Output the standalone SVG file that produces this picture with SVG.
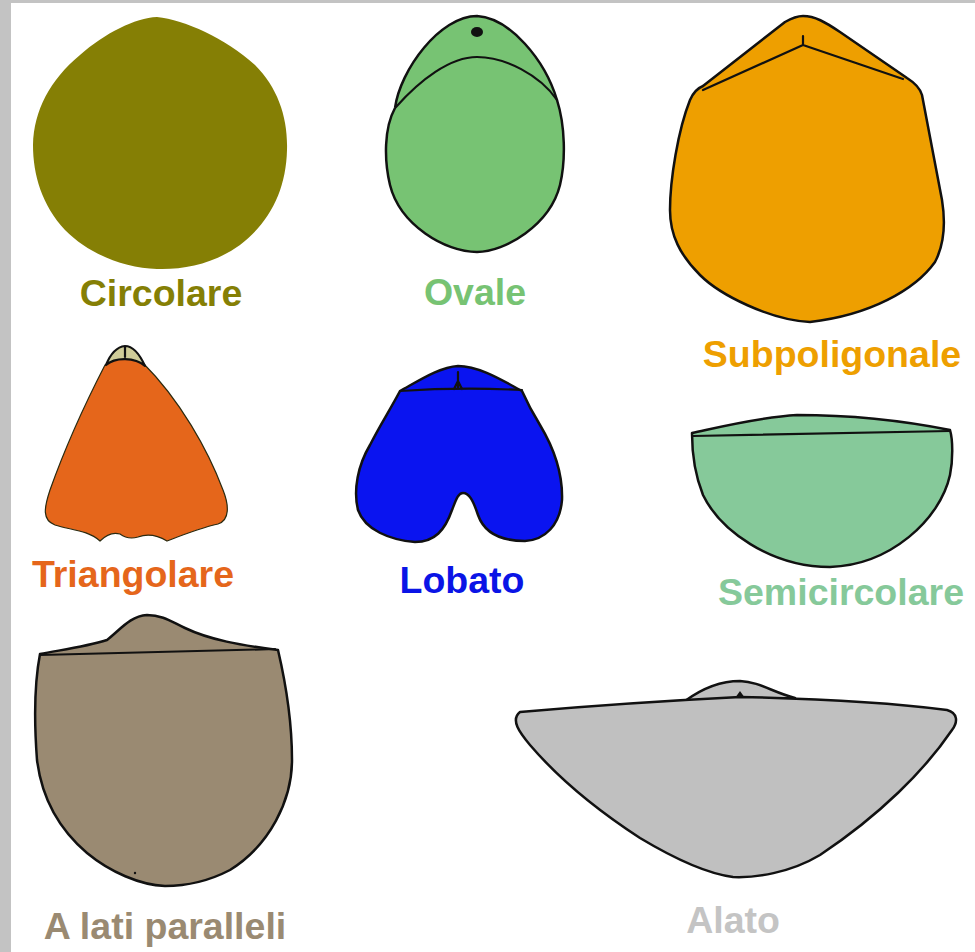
<svg xmlns="http://www.w3.org/2000/svg" width="975" height="952" viewBox="0 0 975 952">
  <style>
    .lbl { font-family: "Liberation Sans", Arial, sans-serif; font-weight: bold; font-size: 37.5px; text-anchor: middle; }
    .ol { stroke: #111; stroke-width: 2.5; stroke-linejoin: round; stroke-linecap: round; }
    .ln { fill: none; stroke: #111; stroke-width: 2.2; stroke-linecap: round; stroke-linejoin: round; }
  </style>

  <!-- page background and frame -->
  <rect x="0" y="0" width="975" height="952" fill="#ffffff"/>
  <rect x="0" y="0" width="11" height="952" fill="#c3c3c3"/>
  <rect x="0" y="0" width="975" height="3" fill="#c3c3c3"/>

  <!-- Circolare -->
  <g id="circolare">
    <path fill="#857f05" d="M157,17 C185,20 225,38 255,65 C278,88 288,118 287,150 C286,190 270,222 240,245 C215,263 185,270 157,269 C125,268 90,255 65,230 C42,205 33,175 33,145 C34,110 50,80 80,55 C105,33 135,18 157,17 Z"/>
    <text class="lbl" x="161" y="306" fill="#857f05">Circolare</text>
  </g>

  <!-- Ovale -->
  <g id="ovale">
    <path class="ol" fill="#77c373" d="M477,16 C510,18 545,60 557,100 C565,125 566,160 560,185 C550,225 505,252 477,252 C445,252 400,225 390,185 C384,160 384,128 395,108 C400,70 440,16 477,16 Z"/>
    <path class="ln" d="M396,107 C420,80 450,57 477,57 C505,57 540,75 557,100"/>
    <ellipse cx="477" cy="32" rx="6" ry="5" fill="#111"/>
    <text class="lbl" x="475" y="305" fill="#77c373">Ovale</text>
  </g>

  <!-- Subpoligonale -->
  <g id="subpoligonale">
    <path class="ol" fill="#ee9f00" d="M803,16 C815,16 825,22 840,32 L907,78 C915,83 920,88 922,95 L942,200 C946,225 944,245 935,262 C915,290 870,315 810,322 C770,320 720,295 700,275 C680,255 670,235 670,210 C670,180 678,130 690,100 C693,93 698,88 703,86 L785,22 C792,18 797,16 803,16 Z"/>
    <path class="ln" d="M703,90 L803,45 L903,79 M803,36 L803,45"/>
    <text class="lbl" x="832" y="367" fill="#ee9f00">Subpoligonale</text>
  </g>

  <!-- Triangolare -->
  <g id="triangolare">
    <path fill="#e5661b" stroke="#2a2a10" stroke-width="1.2" d="M105,365 C88,398 66,445 50,490 C44,508 42,520 55,525 C70,530 88,530 100,541 Q110,531 120,534 Q128,540 138,537 Q152,532 167,541 C180,536 200,528 218,524 C230,520 229,505 223,490 C208,450 180,400 143,363 Q125,352 105,365 Z"/>
    <path fill="#cfcc98" stroke="#111" stroke-width="2.2" stroke-linejoin="round" d="M106,365 C110,355 116,347 125,346 C133,346 140,355 145,366 C135,357 115,357 106,365 Z"/>
    <path class="ln" stroke-width="2" d="M125,347 L125,357"/>
    <text class="lbl" x="133" y="587" fill="#e5661b">Triangolare</text>
  </g>

  <!-- Lobato -->
  <g id="lobato">
    <path class="ol" fill="#0a14f0" d="M400,391 C420,380 440,367 458,366 C480,366 505,382 522,391 C526,400 532,412 540,425 C552,445 563,470 562,500 C560,525 545,540 525,541 C505,541 485,535 478,515 C473,500 469,493 463,493 C458,493 456,500 452,510 C445,530 435,542 415,542 C390,540 365,530 358,510 C353,490 358,465 370,445 C380,425 390,410 400,391 Z"/>
    <path class="ln" d="M400,391 Q460,387 522,390 M458,372 L458,388 M454,389 L458,381 L462,389"/>
    <text class="lbl" x="462" y="593" fill="#0a14e6">Lobato</text>
  </g>

  <!-- Semicircolare -->
  <g id="semicircolare">
    <path class="ol" fill="#86c99a" d="M692,433 C720,427 760,417 797,415 C860,415 915,423 950,430 C953,440 953,460 950,475 C940,520 890,565 830,567 C770,567 720,530 703,495 C695,475 692,455 692,433 Z"/>
    <path class="ln" d="M693,436 L950,431"/>
    <text class="lbl" x="841" y="605" fill="#86c99a">Semicircolare</text>
  </g>

  <!-- A lati paralleli -->
  <g id="lati-paralleli">
    <path class="ol" fill="#9a8a72" d="M40,654 C60,650 85,647 107,640 C120,630 130,616 147,615 C163,615 172,622 185,628 C210,640 240,645 278,650 C285,680 292,720 292,760 C292,800 270,845 230,870 C205,883 180,886 165,886 C140,885 110,872 87,853 C60,830 42,800 37,760 C34,720 35,680 40,654 Z"/>
    <path class="ln" d="M40,655 L275,649"/>
    <circle cx="135" cy="873" r="1.2" fill="#111"/>
    <text class="lbl" x="165" y="939" fill="#9a8a72">A lati paralleli</text>
  </g>

  <!-- Alato -->
  <g id="alato">
    <path class="ol" fill="#c0c0c0" d="M685,701 C700,690 720,681 740,681 C760,682 772,692 795,698 Z"/>
    <path class="ol" fill="#c0c0c0" d="M520,712 C600,705 680,700 740,697 C830,699 900,704 947,710 C958,713 958,722 952,730 C925,770 880,815 820,855 C790,873 755,878 733,877 C710,874 680,862 640,838 C600,812 560,780 530,745 C520,733 510,720 520,712 Z"/>
    <path fill="#111" d="M735,698 L740,691 L745,698 Z"/>
    <text class="lbl" x="733" y="933" fill="#c4c4c4">Alato</text>
  </g>
</svg>
